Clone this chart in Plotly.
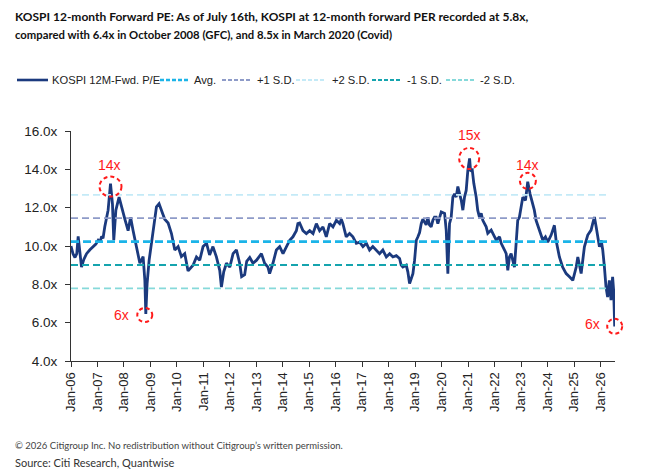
import pandas as pd
import plotly.graph_objects as go

dates = [
"2006-01-01","2006-01-28","2006-02-25","2006-03-22","2006-04-10","2006-05-03","2006-05-26","2006-06-27","2006-08-04","2006-09-19",
"2006-11-03","2006-12-10","2007-01-11","2007-02-04","2007-02-28","2007-03-19","2007-04-12","2007-05-28","2007-06-30","2007-07-27",
"2007-08-14","2007-09-12","2007-10-26","2007-12-13","2008-01-14","2008-02-28","2008-04-02","2008-05-07","2008-06-23","2008-08-08",
"2008-09-22","2008-10-16","2008-10-29","2008-11-16","2008-12-14","2009-01-17","2009-02-18","2009-03-25","2009-04-30","2009-06-02",
"2009-07-17","2009-09-02","2009-10-18","2009-12-03","2010-01-18","2010-03-04","2010-04-19","2010-06-04","2010-08-12","2010-09-28",
"2010-11-12","2010-12-28","2011-02-14","2011-03-28","2011-05-13","2011-06-30","2011-08-15","2011-09-07","2011-10-09","2011-11-15",
"2012-01-01","2012-02-15","2012-04-01","2012-05-16","2012-06-12","2012-07-24","2012-08-21","2012-10-02","2012-11-16","2013-01-04",
"2013-03-12","2013-04-25","2013-06-10","2013-07-03","2013-08-18","2013-10-04","2013-11-19","2014-01-04","2014-02-21","2014-04-06",
"2014-05-21","2014-07-07","2014-07-28","2014-08-21","2014-10-06","2014-11-22","2015-01-07","2015-02-22","2015-04-09","2015-05-24",
"2015-07-09","2015-08-24","2015-10-09","2015-11-24","2016-01-10","2016-02-24","2016-03-18","2016-04-09","2016-05-25","2016-07-10",
"2016-08-25","2016-10-11","2016-11-26","2017-01-11","2017-02-27","2017-04-12","2017-05-27","2017-07-13","2017-08-28","2017-10-12",
"2017-11-29","2018-01-14","2018-02-28","2018-04-15","2018-05-31","2018-06-22","2018-07-15","2018-08-31","2018-09-22","2018-10-16",
"2018-11-09","2018-12-01","2018-12-24","2019-01-17","2019-02-08","2019-03-03","2019-03-26","2019-04-17","2019-06-02","2019-06-24",
"2019-07-17","2019-08-10","2019-09-02","2019-09-25","2019-10-18","2019-11-10","2019-12-27","2020-02-11","2020-03-05","2020-03-27",
"2020-04-19","2020-05-12","2020-06-04","2020-06-27","2020-07-20","2020-08-12","2020-09-05","2020-09-28","2020-10-20","2020-11-12",
"2020-12-05","2020-12-28","2021-01-21","2021-02-04","2021-02-27","2021-03-20","2021-04-22","2021-05-13","2021-06-06","2021-06-30",
"2021-07-22","2021-09-07","2021-09-29","2021-11-15","2022-01-01","2022-01-24","2022-03-10","2022-04-02","2022-05-18","2022-06-10",
"2022-07-02","2022-07-25","2022-08-17","2022-10-02","2022-10-25","2022-11-16","2022-12-09","2023-01-03","2023-01-25","2023-03-03",
"2023-04-03","2023-05-05","2023-06-10","2023-07-03","2023-07-27","2023-09-11","2023-10-27","2023-12-03","2024-01-04","2024-02-20",
"2024-04-05","2024-04-28","2024-06-13","2024-07-28","2024-09-14","2024-10-30","2024-12-15","2025-01-31","2025-02-22","2025-04-09",
"2025-05-24","2025-07-09","2025-08-24","2025-09-15","2025-10-09","2025-11-02","2025-11-24","2025-12-17","2026-01-10","2026-02-01",
"2026-02-24","2026-03-18","2026-04-09","2026-05-03","2026-05-26","2026-06-17","2026-07-01","2026-07-16"]

pe = [
10.0,9.6,9.4,9.6,10.5,9.6,8.9,9.3,9.6,9.8,
9.97,10.1,10.3,10.2,10.5,10.4,11.0,11.87,13.26,12.2,
10.3,11.87,12.55,11.78,11.4,10.8,11.5,10.8,9.97,9.1,
9.45,8.2,6.45,8.04,9.26,10.3,10.97,12.04,12.2,11.87,
11.4,11.2,10.65,9.79,9.97,9.45,9.6,8.7,9.0,9.43,
9.26,9.97,10.14,9.53,9.97,9.43,8.73,7.86,8.65,9.1,
8.9,9.6,9.8,9.1,8.4,8.5,9.2,9.4,9.1,9.26,
9.6,9.1,8.9,8.56,9.1,9.79,9.97,9.6,9.97,10.3,
10.48,10.8,11.17,11.2,10.8,10.65,10.8,10.65,11.17,10.8,
11.0,10.48,11.17,11.0,11.34,11.17,11.4,11.17,10.48,10.65,
10.48,10.14,10.2,9.97,10.14,9.79,9.97,9.79,9.6,9.79,
9.43,9.6,9.43,9.5,9.35,9.0,8.9,9.0,8.65,8.04,
8.39,8.56,9.26,10.3,10.48,10.7,11.17,11.4,11.1,11.5,
11.1,11.0,11.34,11.5,11.5,11.17,11.78,11.7,10.8,8.56,
11.17,11.5,12.55,12.72,12.55,13.1,12.72,12.38,11.87,12.55,
12.9,13.96,14.57,13.9,13.96,13.27,12.55,11.87,11.5,11.7,
11.34,11.0,10.66,10.83,10.48,10.31,10.48,10.14,9.79,9.6,
8.73,9.43,9.6,8.9,10.14,11.34,11.5,12.21,12.55,12.38,
13.35,12.72,12.21,11.87,11.34,10.83,10.31,10.48,10.2,10.57,
11.08,10.3,9.43,8.9,8.56,8.39,8.21,8.9,9.43,8.56,
9.96,10.57,10.83,11.17,11.51,11.0,10.48,9.96,10.3,9.79,
8.9,7.86,7.34,8.21,7.17,8.39,7.7,5.8]

series_name = "KOSPI 12M-Fwd. P/E"
avg = 10.23
sd = 1.22
band_dates = ["2006-01-01", "2026-05-01"]
band_names = ["Avg.", "+1 S.D.", "+2 S.D.", "-1 S.D.", "-2 S.D."]
band_mult = [0, 1, 2, -1, -2]
band_colors = ["#1BB4E8", "#8E9BC8", "#C4EAF7", "#15A4AE", "#86D9DA"]
band_widths = [2.6, 1.8, 1.8, 2.0, 1.8]
band_dash = ["8px,4px", "7px,4px", "7px,4px", "7px,4px", "7px,4px"]
line_color = "#1B3A7E"

x_range = ["2006-01-01", "2026-07-20"]
y_range = [4, 16]

# callouts: label, centre date, centre value, text date, text value, rx, ry
call_labels = ["14x", "6x", "15x", "14x", "6x"]
call_dates = ["2007-06-30", "2008-10-15", "2021-01-15", "2023-04-05", "2026-07-16"]
call_vals = [13.1, 6.40, 14.57, 13.40, 5.81]
call_text_dates = ["2007-06-20", "2007-11-30", "2021-01-15", "2023-04-05", "2025-09-15"]
call_text_vals = [14.22, 6.42, 15.79, 14.22, 5.93]
call_rx = [11, 7.5, 10, 8, 7.5]
call_ry = [10, 7, 10.5, 8, 7.5]

# figure geometry (pixels)
W, H = 646, 474
ML, MR, MT, MB = 71, 31, 131, 113
PW, PH = W - ML - MR, H - MT - MB


def px_x(px):
    return (px - ML) / PW


def px_y(py):
    return (H - MB - py) / PH


t0, t1 = pd.Timestamp(x_range[0]), pd.Timestamp(x_range[1])


def date_frac(d):
    return (pd.Timestamp(d) - t0) / (t1 - t0)


def val_frac(v):
    return (v - y_range[0]) / (y_range[1] - y_range[0])


fig = go.Figure()
fig.add_trace(go.Scatter(x=dates, y=pe, mode="lines", name=series_name,
                         line=dict(color=line_color, width=2.8), showlegend=False))
for nm, m, c, w, dsh in zip(band_names, band_mult, band_colors, band_widths, band_dash):
    v = avg + m * sd
    fig.add_trace(go.Scatter(x=band_dates, y=[v, v], mode="lines", name=nm,
                             line=dict(color=c, width=w, dash=dsh), showlegend=False))

red = "#FF1A1A"
for lab, cd, cv, td, tv, rx, ry in zip(call_labels, call_dates, call_vals,
                                       call_text_dates, call_text_vals, call_rx, call_ry):
    fig.add_shape(type="circle", xref="paper", yref="paper", xsizemode="pixel", ysizemode="pixel",
                  xanchor=date_frac(cd), yanchor=val_frac(cv), x0=-rx, x1=rx, y0=-ry, y1=ry,
                  line=dict(color=red, width=2, dash="4px,3px"))
    fig.add_annotation(x=td, y=tv, xref="x", yref="y", text=lab, showarrow=False,
                       font=dict(family="Liberation Sans, Arial", size=14, color=red))

# legend (drawn as a row of samples + labels)
leg_names = [series_name] + band_names
leg_colors = [line_color] + band_colors
leg_widths = [2.6] + band_widths
leg_dash = ["solid", "4px,2px", "4px,2px", "4px,2px", "4px,2px", "4px,2px"]
leg_x0 = [17, 160, 222, 296, 372, 446]
leg_len = [31, 30, 30, 30, 30, 30]
leg_text_x = [50, 192, 255, 330, 405, 478]
leg_y = 80
for nm, c, w, dsh, x0, ln, tx in zip(leg_names, leg_colors, leg_widths, leg_dash, leg_x0, leg_len, leg_text_x):
    fig.add_shape(type="line", xref="paper", yref="paper", x0=px_x(x0), x1=px_x(x0 + ln),
                  y0=px_y(leg_y), y1=px_y(leg_y), line=dict(color=c, width=w, dash=dsh))
    fig.add_annotation(xref="paper", yref="paper", x=px_x(tx), y=px_y(leg_y), xanchor="left",
                       yanchor="middle", text=nm, showarrow=False,
                       font=dict(family="Liberation Sans, Arial", size=11.2, color="#222222"))

title_lines = ["KOSPI 12-month Forward PE: As of July 16th, KOSPI at 12-month forward PER recorded at 5.8x,",
               "compared with 6.4x in October 2008 (GFC), and 8.5x in March 2020 (Covid)"]
title_sizes = [12.0, 11.3]
for ln, yy, fs in zip(title_lines, [16.5, 35], title_sizes):
    fig.add_annotation(xref="paper", yref="paper", x=px_x(13), y=px_y(yy), xanchor="left", yanchor="middle",
                       text="<b>" + ln + "</b>", showarrow=False,
                       font=dict(family="Lato, Roboto", size=fs, color="#111111"))

fig.add_annotation(xref="paper", yref="paper", x=px_x(13), y=px_y(445), xanchor="left", yanchor="middle",
                   text="© 2026 Citigroup Inc. No redistribution without Citigroup’s written permission.",
                   showarrow=False, font=dict(family="Lato, Noto Sans", size=9.5, color="#444444"))
fig.add_annotation(xref="paper", yref="paper", x=px_x(13), y=px_y(462), xanchor="left", yanchor="middle",
                   text="Source: Citi Research, Quantwise",
                   showarrow=False, font=dict(family="Lato, Noto Sans", size=11, color="#333333"))

fig.update_layout(
    width=W, height=H,
    margin=dict(l=ML, r=MR, t=MT, b=MB),
    paper_bgcolor="white", plot_bgcolor="white",
    showlegend=False,
)
fig.update_xaxes(type="date", range=x_range, tickformat="%b-%y",
                 dtick="M12", tick0="2006-01-01", tickangle=-90, ticks="outside", ticklen=5,
                 tickcolor="#333333", showline=True, linecolor="#333333", linewidth=1,
                 showgrid=False, zeroline=False,
                 tickfont=dict(family="Liberation Sans, Arial", size=13, color="#222222"))
fig.update_yaxes(range=y_range, dtick=2, tickformat=".1f", ticksuffix="x", ticks="outside",
                 ticklen=5, tickcolor="#333333", showline=True, linecolor="#333333", linewidth=1,
                 showgrid=False, zeroline=False, ticklabelstandoff=5,
                 tickfont=dict(family="Liberation Sans, Arial", size=13.5, color="#222222"))

fig.write_html("out.html")
